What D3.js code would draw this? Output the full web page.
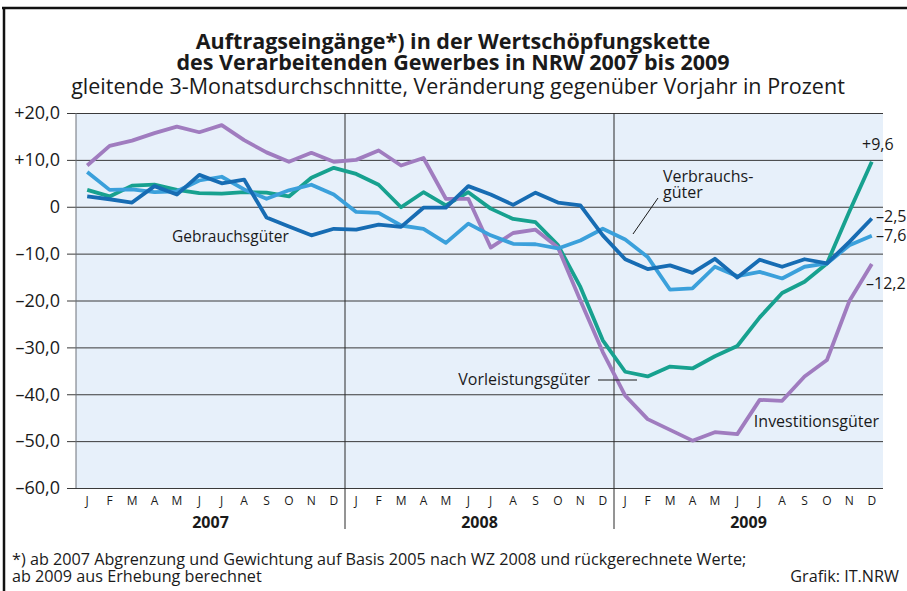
<!DOCTYPE html>
<html>
<head>
<meta charset="utf-8">
<script src="https://cdn.jsdelivr.net/npm/d3@7"></script>
<style>
  body { margin: 0; background: #fff; }
  svg { display: block; font-family: 'Open Sans', 'Noto Sans', sans-serif; }
</style>
</head>
<body>
<div id="chart"></div>
<script>
// Auftragseingänge in der Wertschöpfungskette, NRW 2007-2009
const months = ["J", "F", "M", "A", "M", "J", "J", "A", "S", "O", "N", "D"];
const years = ["2007", "2008", "2009"];
const yTicks = [20, 10, 0, -10, -20, -30, -40, -50, -60];

// Jan 2007 ... Dez 2009 (36 Monate)
const vorleistungsgueter = [
    3.6, 2.2, 4.5, 4.7, 3.6, 2.9, 2.8, 3.1, 3.0, 2.2, 6.2, 8.3,
    7.0, 4.7, -0.1, 3.1, 0.3, 3.1, -0.4, -2.6, -3.3, -8.2, -17.1, -28.5,
    -35.2, -36.2, -34.1, -34.5, -31.9, -29.7, -23.6, -18.4, -16.0, -12.1, -1.0, 9.6
];
const investitionsgueter = [
    8.8, 13.0, 14.1, 15.7, 17.1, 15.9, 17.4, 14.2, 11.6, 9.6, 11.5, 9.6,
    10.0, 12.0, 8.8, 10.4, 1.7, 1.7, -8.7, -5.6, -4.9, -8.7, -20.0, -31.0,
    -40.3, -45.3, -47.6, -49.9, -48.1, -48.5, -41.2, -41.4, -36.2, -32.7, -20.1, -12.2
];
const verbrauchsgueter = [
    7.4, 3.6, 3.7, 3.1, 3.3, 5.6, 6.4, 3.7, 1.7, 3.5, 4.7, 2.6,
    -1.1, -1.3, -4.0, -4.7, -7.7, -3.6, -6.1, -7.9, -8.0, -8.9, -7.2, -4.7,
    -7.0, -10.7, -17.7, -17.4, -12.8, -14.8, -13.9, -15.3, -12.8, -12.1, -8.2, -6.2
];
const gebrauchsgueter = [
    2.2, 1.6, 0.9, 4.4, 2.6, 6.8, 5.0, 5.8, -2.3, -4.2, -6.1, -4.7,
    -4.9, -3.8, -4.3, -0.2, -0.2, 4.4, 2.6, 0.4, 3.0, 0.9, 0.3, -6.1,
    -11.2, -13.3, -12.5, -14.1, -11.1, -15.1, -11.3, -12.8, -11.2, -12.1, -7.5, -2.5
];

const series = [
    { name: "Vorleistungsgüter", values: vorleistungsgueter, color: "#17a18f" },
    { name: "Investitionsgüter", values: investitionsgueter, color: "#a07cbf" },
    { name: "Verbrauchsgüter", values: verbrauchsgueter, color: "#3ba0db" },
    { name: "Gebrauchsgüter", values: gebrauchsgueter, color: "#176cb3" }
];

const W = 907, H = 591;
const plot = { left: 76, right: 883, top: 113, bottom: 488 };
const textColor = "#1a1a1a";

const svg = d3.select("#chart")
    .append("svg")
    .attr("width", W)
    .attr("height", H);

// Rahmen oben und links
svg.append("line")
    .attr("x1", 2).attr("x2", W).attr("y1", 8).attr("y2", 8)
    .attr("stroke", "#111").attr("stroke-width", 2.5);
svg.append("line")
    .attr("x1", 4).attr("x2", 4).attr("y1", 7).attr("y2", H)
    .attr("stroke", "#111").attr("stroke-width", 2.5);

// Titel
const titleX = 453;
svg.append("text")
    .attr("x", titleX).attr("y", 49)
    .attr("text-anchor", "middle")
    .attr("font-size", "21.5px").attr("font-weight", "700")
    .attr("fill", textColor)
    .text("Auftragseingänge*) in der Wertschöpfungskette");
svg.append("text")
    .attr("x", titleX).attr("y", 70)
    .attr("text-anchor", "middle")
    .attr("font-size", "21.5px").attr("font-weight", "700")
    .attr("fill", textColor)
    .text("des Verarbeitenden Gewerbes in NRW 2007 bis 2009");
svg.append("text")
    .attr("x", 458).attr("y", 94)
    .attr("text-anchor", "middle")
    .attr("font-size", "21.5px")
    .attr("fill", textColor)
    .text("gleitende 3-Monatsdurchschnitte, Veränderung gegenüber Vorjahr in Prozent");

// Skalen
const idx = d3.range(36);
const x = d3.scaleBand()
    .domain(idx)
    .range([plot.left, plot.right])
    .padding(0);
const xc = i => x(i) + x.bandwidth() / 2;

const y = d3.scaleLinear()
    .domain([-60, 20])
    .range([plot.bottom, plot.top]);

// Hintergrund
svg.append("rect")
    .attr("x", plot.left).attr("y", plot.top)
    .attr("width", plot.right - plot.left)
    .attr("height", plot.bottom - plot.top)
    .attr("fill", "#e7f0fa");

// Gitterlinien + y-Achse
const yAxis = svg.append("g")
    .attr("transform", `translate(${plot.left},0)`)
    .call(d3.axisLeft(y)
        .tickValues(yTicks)
        .tickSize(-(plot.right - plot.left))
        .tickPadding(16)
        .tickFormat(d => (d > 0 ? "+" : d < 0 ? "\u2013" : "") +
            (d === 0 ? "0" : Math.abs(d).toFixed(1).replace(".", ","))));
yAxis.select(".domain").remove();
yAxis.selectAll(".tick line")
    .attr("x1", -9)
    .attr("stroke", "#3a3a3a")
    .attr("stroke-width", 1);
yAxis.selectAll(".tick text")
    .attr("font-size", "18px")
    .attr("font-family", "'Open Sans', sans-serif")
    .attr("fill", textColor);

// linke Kante
svg.append("line")
    .attr("x1", plot.left).attr("x2", plot.left)
    .attr("y1", plot.top).attr("y2", plot.bottom)
    .attr("stroke", "#6d7178").attr("stroke-width", 1);

// Jahrestrenner
[12, 24].forEach(i => {
    svg.append("line")
        .attr("x1", x(i)).attr("x2", x(i))
        .attr("y1", plot.top).attr("y2", 529)
        .attr("stroke", "#2a2a2a").attr("stroke-width", 1);
});

// Monatsbeschriftung
svg.append("g")
    .selectAll("text")
    .data(idx)
    .join("text")
    .attr("x", d => xc(d))
    .attr("y", 505)
    .attr("text-anchor", "middle")
    .attr("font-size", "12px")
    .attr("fill", textColor)
    .text(d => months[d % 12]);

// Jahre
svg.append("g")
    .selectAll("text")
    .data(years)
    .join("text")
    .attr("x", (d, i) => (x(i * 12) + x(i * 12 + 11) + x.bandwidth()) / 2)
    .attr("y", 528)
    .attr("text-anchor", "middle")
    .attr("font-size", "16px")
    .attr("font-weight", "700")
    .attr("fill", textColor)
    .text(d => d);

// Linien
const line = d3.line()
    .x((d, i) => xc(i))
    .y(d => y(d))
    .curve(d3.curveLinear);

svg.append("g")
    .selectAll("path")
    .data(series)
    .join("path")
    .attr("d", d => line(d.values))
    .attr("fill", "none")
    .attr("stroke", d => d.color)
    .attr("stroke-width", 3.8)
    .attr("stroke-linejoin", "round");

// Reihenbeschriftungen
const labelSize = "16px";
svg.append("text")
    .attr("x", 172).attr("y", 242)
    .attr("font-size", "15.5px").attr("fill", textColor)
    .text("Gebrauchsgüter");
svg.append("text")
    .attr("x", 663).attr("y", 182)
    .attr("font-size", labelSize).attr("fill", textColor)
    .text("Verbrauchs-");
svg.append("text")
    .attr("x", 663).attr("y", 198)
    .attr("font-size", labelSize).attr("fill", textColor)
    .text("güter");
svg.append("line")
    .attr("x1", 658).attr("y1", 198).attr("x2", 633).attr("y2", 234)
    .attr("stroke", textColor).attr("stroke-width", 1);
svg.append("text")
    .attr("x", 590).attr("y", 385)
    .attr("text-anchor", "end")
    .attr("font-size", labelSize).attr("fill", textColor)
    .text("Vorleistungsgüter");
svg.append("line")
    .attr("x1", 598).attr("y1", 380).attr("x2", 637).attr("y2", 380)
    .attr("stroke", textColor).attr("stroke-width", 1);
svg.append("text")
    .attr("x", 879).attr("y", 427)
    .attr("text-anchor", "end")
    .attr("font-size", labelSize).attr("fill", textColor)
    .text("Investitionsgüter");

// Endwerte
const endLabels = [
    { text: "+9,6", x: 862, y: 150 },
    { text: "\u20132,5", x: 876, y: 222 },
    { text: "\u20137,6", x: 876, y: 241 },
    { text: "\u201312,2", x: 866, y: 289 }
];
svg.append("g")
    .selectAll("text")
    .data(endLabels)
    .join("text")
    .attr("x", d => d.x)
    .attr("y", d => d.y)
    .attr("font-size", labelSize)
    .attr("fill", textColor)
    .text(d => d.text);

// Fußnote
const noteSize = "16.2px";
svg.append("text")
    .attr("x", 12).attr("y", 565)
    .attr("font-size", noteSize).attr("fill", textColor)
    .text("*) ab 2007 Abgrenzung und Gewichtung auf Basis 2005 nach WZ 2008 und rückgerechnete Werte;");
svg.append("text")
    .attr("x", 12).attr("y", 582)
    .attr("font-size", noteSize).attr("fill", textColor)
    .text("ab 2009 aus Erhebung berechnet");
svg.append("text")
    .attr("x", 899).attr("y", 582)
    .attr("text-anchor", "end")
    .attr("font-size", noteSize).attr("fill", textColor)
    .text("Grafik: IT.NRW");
</script>
</body>
</html>
